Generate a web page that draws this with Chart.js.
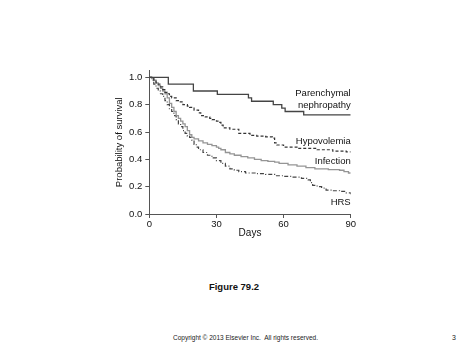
<!DOCTYPE html>
<html>
<head>
<meta charset="utf-8">
<script src="https://cdn.jsdelivr.net/npm/chart.js@4.4.1/dist/chart.umd.min.js"></script>
<style>
  body { margin: 0; background: #fff; width: 474px; height: 355px; position: relative; overflow: hidden; font-family: "Liberation Sans", Arial, sans-serif; }
  #wrap { position: absolute; left: 95px; top: 60px; width: 280px; height: 190px; }
  #caption { position: absolute; left: 0; width: 468px; top: 281px; text-align: center; font-weight: bold; font-size: 9.5px; color: #111; }
  #copy { position: absolute; left: 173px; top: 334px; font-size: 6.5px; color: #222; white-space: pre; }
  #page { position: absolute; left: 452px; top: 334px; font-size: 7px; color: #222; }
</style>
</head>
<body>
<div id="wrap"><canvas id="myChart"></canvas></div>
<div id="caption">Figure 79.2</div>
<div id="copy">Copyright © 2013 Elsevier Inc.  All rights reserved.</div>
<div id="page">3</div>
<script>
// Kaplan-Meier survival curves, days vs probability of survival
const parenchymalDays = [0, 8.5, 19.7, 30.4, 44.3, 45.7, 55.4, 59.2, 60.7, 69, 90];
const parenchymalSurv = [1.0, 0.95, 0.90, 0.875, 0.85, 0.825, 0.80, 0.775, 0.75, 0.725, 0.725];

const hypovolemiaDays = [0, 2, 3, 4, 5, 6, 7, 8, 9, 10, 12, 13, 15, 17, 18, 20, 22, 23, 25, 27, 28, 30, 31, 32, 33, 36, 40, 45, 48, 52, 55, 56, 57, 60, 66, 75, 82, 88, 90];
const hypovolemiaSurv = [1.0, 0.98, 0.96, 0.95, 0.93, 0.91, 0.89, 0.88, 0.86, 0.85, 0.83, 0.82, 0.80, 0.79, 0.78, 0.76, 0.74, 0.72, 0.71, 0.70, 0.69, 0.68, 0.67, 0.65, 0.63, 0.62, 0.59, 0.575, 0.57, 0.565, 0.555, 0.52, 0.505, 0.49, 0.48, 0.47, 0.46, 0.455, 0.455];

const infectionDays = [0, 1, 2, 3, 4, 5, 6, 7, 8, 9, 10, 11, 12, 13, 14, 15, 16, 17, 18, 19, 20, 22, 24, 26, 28, 30, 31, 32, 34, 36, 38, 41, 44, 47, 50, 53, 56, 58, 62, 66, 70, 74, 80, 85, 87, 89, 90];
const infectionSurv = [1.0, 0.99, 0.98, 0.96, 0.94, 0.92, 0.90, 0.88, 0.85, 0.81, 0.78, 0.75, 0.72, 0.70, 0.68, 0.66, 0.64, 0.61, 0.58, 0.56, 0.55, 0.535, 0.52, 0.51, 0.50, 0.49, 0.48, 0.47, 0.45, 0.44, 0.43, 0.42, 0.41, 0.40, 0.39, 0.385, 0.38, 0.37, 0.36, 0.35, 0.34, 0.33, 0.325, 0.32, 0.31, 0.30, 0.30];

const hrsDays = [0, 1, 2, 3, 4, 5, 6, 7, 8, 9, 10, 11, 12, 13, 14, 15, 16, 17, 18, 19, 20, 21, 22, 24, 26, 28, 30, 32, 34, 36, 38, 40, 43, 48, 52, 56, 60, 64, 68, 71, 72, 73, 75, 77, 79, 82, 85, 88, 90];
const hrsSurv = [1.0, 0.98, 0.95, 0.92, 0.90, 0.88, 0.86, 0.83, 0.80, 0.77, 0.75, 0.72, 0.69, 0.66, 0.64, 0.61, 0.59, 0.57, 0.56, 0.54, 0.51, 0.49, 0.47, 0.45, 0.43, 0.41, 0.39, 0.37, 0.35, 0.33, 0.32, 0.31, 0.30, 0.295, 0.29, 0.28, 0.275, 0.27, 0.26, 0.25, 0.23, 0.21, 0.20, 0.19, 0.175, 0.17, 0.165, 0.155, 0.145];

const xTicks = [0, 30, 60, 90];
const yTicks = [0, 0.2, 0.4, 0.6, 0.8, 1.0];

// curve labels (text lines and the y value they sit at)
const curveLabels = ["Parenchymal", "nephropathy", "Hypovolemia", "Infection", "HRS"];
const curveLabelY = [0.885, 0.795, 0.534, 0.388, 0.083];

function toPoints(days, surv) {
  let pts = [];
  for (let i = 0; i < days.length; i++) {
    pts.push({ x: days[i], y: surv[i] });
  }
  return pts;
}

const data = {
  datasets: [
    { label: "Parenchymal nephropathy", data: toPoints(parenchymalDays, parenchymalSurv), borderColor: "#444", borderWidth: 1.3 },
    { label: "Hypovolemia", data: toPoints(hypovolemiaDays, hypovolemiaSurv), borderColor: "#333", borderWidth: 1.2, borderDash: [3, 2] },
    { label: "Infection", data: toPoints(infectionDays, infectionSurv), borderColor: "#959595", borderWidth: 1.3 },
    { label: "HRS", data: toPoints(hrsDays, hrsSurv), borderColor: "#444", borderWidth: 1.2, borderDash: [4, 2, 1, 2] },
  ],
};

const curveLabelPlugin = {
  id: "curveLabels",
  afterDatasetsDraw(chart) {
    const { ctx, scales: { x, y } } = chart;
    ctx.save();
    ctx.font = "9.5px 'Liberation Sans', Arial, sans-serif";
    ctx.fillStyle = "#111";
    ctx.textAlign = "right";
    ctx.textBaseline = "middle";
    for (let i = 0; i < curveLabels.length; i++) {
      ctx.fillText(curveLabels[i], x.getPixelForValue(90), y.getPixelForValue(curveLabelY[i]));
    }
    ctx.restore();
  },
};

const fam = "'Liberation Sans', Arial, sans-serif";

const config = {
  type: "line",
  data: data,
  options: {
    responsive: true,
    maintainAspectRatio: false,
    animation: false,
    layout: { padding: { top: 10.5, right: 24.3, bottom: 0, left: 0 } },
    elements: { point: { radius: 0 }, line: { stepped: true, fill: false } },
    plugins: { legend: { display: false }, tooltip: { enabled: false } },
    scales: {
      x: {
        type: "linear",
        min: 0,
        max: 90,
        afterFit: (s) => { s.height = 36; },
        afterBuildTicks: (s) => { s.ticks = xTicks.map((v) => ({ value: v })); },
        grid: { drawOnChartArea: false, tickLength: 4, color: "#555" },
        border: { color: "#555", width: 1 },
        ticks: { font: { family: fam, size: 9.5 }, color: "#111", padding: 1, maxRotation: 0 },
        title: { display: true, text: "Days", font: { family: fam, size: 10 }, color: "#111", padding: { top: 0, bottom: 10.4 } },
      },
      y: {
        type: "linear",
        min: 0,
        max: 1.05,
        afterFit: (s) => { s.width = 54.3; },
        afterBuildTicks: (s) => { s.ticks = yTicks.map((v) => ({ value: v })); },
        grid: { drawOnChartArea: false, tickLength: 4, color: "#555" },
        border: { color: "#555", width: 1 },
        ticks: { font: { family: fam, size: 9.5 }, color: "#111", padding: 3, callback: (v) => v.toFixed(1) },
        title: { display: true, text: "Probability of survival", font: { family: fam, size: 9.5 }, color: "#111", padding: { top: 18.6, bottom: 0 } },
      },
    },
  },
  plugins: [curveLabelPlugin],
};

const myChart = new Chart(document.getElementById("myChart"), config);
</script>
</body>
</html>
